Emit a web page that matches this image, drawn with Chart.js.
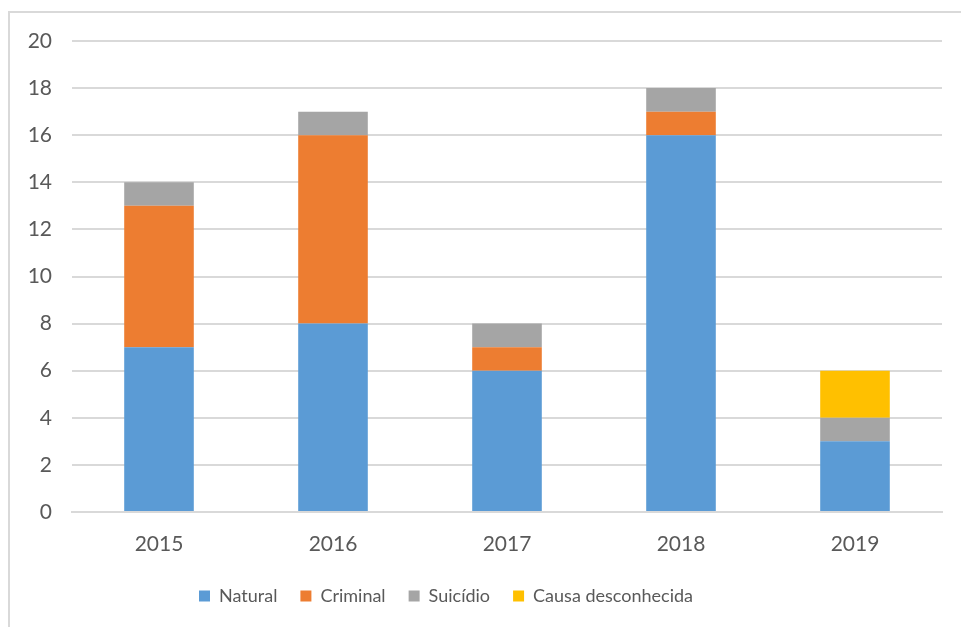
<!DOCTYPE html>
<html>
<head>
<meta charset="utf-8">
<script src="https://cdn.jsdelivr.net/npm/chart.js@4/dist/chart.umd.min.js"></script>
<style>
  html, body { margin: 0; padding: 0; background: #fff; overflow: hidden; }
  #frame { position: absolute; left: 8px; top: 11px; width: 1000px; height: 1000px; border: 2px solid #d9d9d9; }
  #chart { position: absolute; left: 0; top: 0; }
</style>
</head>
<body>
<div id="frame"></div>
<canvas id="chart" width="961" height="627"></canvas>
<script>
// dados
const anos = ['2015', '2016', '2017', '2018', '2019'];
const natural = [7, 8, 6, 16, 3];
const criminal = [6, 8, 1, 1, 0];
const suicidio = [1, 1, 1, 1, 1];
const desconhecida = [0, 0, 0, 0, 2];

const corTexto = '#595959';
const fonteEixo = { family: 'Lato', size: 21 };
const fonteLegenda = { family: 'Lato', size: 18 };

// a legenda do original fica um pouco à esquerda do centro
const deslocaLegenda = {
    id: 'deslocaLegenda',
    afterLayout(chart) {
        chart.legend.left -= 25;
        chart.legend.right -= 25;
    }
};

const ctx = document.getElementById('chart').getContext('2d');
const chart = new Chart(ctx, {
    type: 'bar',
    data: {
        labels: anos,
        datasets: [
            { label: 'Natural', data: natural, backgroundColor: '#5b9bd5' },
            { label: 'Criminal', data: criminal, backgroundColor: '#ed7d31' },
            { label: 'Suicídio', data: suicidio, backgroundColor: '#a5a5a5' },
            { label: 'Causa desconhecida', data: desconhecida, backgroundColor: '#ffc000' }
        ]
    },
    options: {
        responsive: false,
        animation: false,
        barPercentage: 0.4,
        categoryPercentage: 1,
        layout: { padding: { top: 41, right: 19, bottom: 12, left: 0 } },
        plugins: {
            tooltip: { enabled: false },
            legend: {
                position: 'bottom',
                labels: {
                    boxWidth: 11,
                    boxHeight: 11,
                    padding: 23,
                    color: corTexto,
                    font: fonteLegenda
                }
            }
        },
        scales: {
            x: {
                stacked: true,
                grid: { display: false, drawTicks: false },
                border: { color: '#d9d9d9', width: 2 },
                ticks: { color: corTexto, font: fonteEixo, padding: 20 },
                afterFit: (s) => { s.height = 52; }
            },
            y: {
                stacked: true,
                min: 0,
                max: 20,
                ticks: { stepSize: 2, color: corTexto, font: fonteEixo, padding: 20 },
                grid: { color: '#d9d9d9', lineWidth: 2, drawTicks: false },
                border: { display: false },
                afterFit: (s) => { s.width = 72; }
            }
        }
    },
    plugins: [deslocaLegenda]
});
</script>
</body>
</html>
